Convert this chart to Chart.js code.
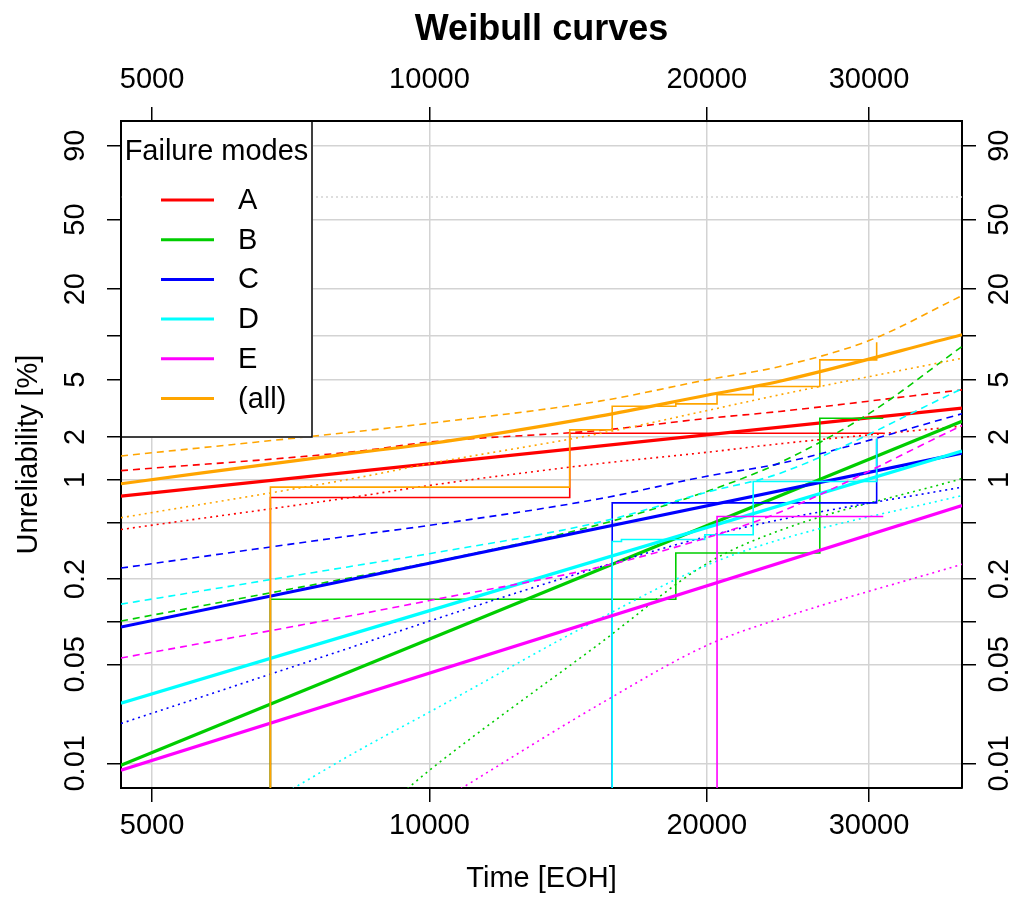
<!DOCTYPE html>
<html>
<head>
<meta charset="utf-8">
<title>Weibull curves</title>
<script src="https://cdn.jsdelivr.net/npm/chart.js@4"></script>
<style>
    html, body { margin: 0; padding: 0; background: #fff; }
</style>
</head>
<body>
<canvas id="chart" width="1016" height="898"></canvas>
<script>
// Failure modes and their colours
const MODES = ['A', 'B', 'C', 'D', 'E', '(all)'];
const MODE_COLORS = ['#ff0000', '#00cd00', '#0000ff', '#00ffff', '#ff00ff', '#ffa500'];

// Axis ticks
const X_TICKS = [5000, 10000, 20000, 30000];
const Y_TICKS = [0.01, 0.05, 0.1, 0.2, 0.5, 1, 2, 5, 10, 20, 50, 90];
const Y_TICK_LABELS = ['0.01', '0.05', '', '0.2', '', '1', '2', '5', '', '20', '50', '90'];
const CHAR_LIFE = 63.2;

// Axis range (time in EOH, unreliability as Weibull value)
const T_MIN = 4626, T_MAX = 37850;
const W_MIN = -4.1745, W_MAX = 0.5367;
const P_LOW = 0.0066; // just under the bottom of the plot [%]

// Times the curves were read at
const T_ENDS = [4626, 37850];
const T_GRID = [4626, 8390, 10000, 15300, 20000, 24000, 37850];
const T_GRID_FINE = [4626, 8390, 10000, 15300, 20000, 24000, 30000, 37850];

// Weibull fits [%]
const fitA = [0.767, 3.17];
const fitB = [0.00968, 2.57];
const fitC = [0.0917, 1.54];
const fitD = [0.0266, 1.59];
const fitE = [0.00893, 0.660];
const fitAll = [0.938, 1.56, 1.79, 2.79, 3.90, 4.87, 10.1];

// Upper (dashed) confidence bounds [%]
const upperA = [1.16, 1.59, 1.84, 2.22, 2.69, 3.01, 4.25];
const upperB = [0.101, 0.210, 0.261, 0.485, 0.828, 1.32, 2.91, 8.41];
const upperC = [0.239, 0.411, 0.478, 0.736, 1.06, 1.30, 2.90];
const upperD = [0.133, 0.251, 0.302, 0.504, 0.819, 1.11, 4.32];
const upperE = [0.0554, 0.113, 0.141, 0.243, 0.391, 0.592, 2.40];
const upperAll = [1.47, 2.19, 2.49, 3.55, 4.98, 6.15, 9.22, 18.2];

// Lower (dotted) confidence bounds [%]
const lowerA = [0.447, 0.767, 0.913, 1.30, 1.56, 1.79, 2.38];
const tLowerB = [9460, 10000, 15300, 20000, 24000, 37850];
const lowerB = [P_LOW, 0.00893, 0.0700, 0.257, 0.440, 1.02];
const lowerC = [0.0191, 0.0688, 0.101, 0.243, 0.399, 0.524, 0.888];
const tLowerD = [7100, 8390, 10000, 15300, 20000, 24000, 37850];
const lowerD = [P_LOW, 0.0124, 0.0230, 0.105, 0.250, 0.379, 0.776];
const tLowerE = [10810, 15300, 20000, 24000, 37850];
const lowerE = [P_LOW, 0.0261, 0.0680, 0.105, 0.254];
const lowerAll = [0.541, 1.04, 1.30, 2.11, 3.05, 3.93, 7.00];

// Empirical steps: failure times, levels [%], end of record (null = ends on the step)
const stepTimesA = [6720, 14200];
const stepPctA = [0.751, 2.12];
const stepTimesB = [6720, 18510, 26530];
const stepPctB = [0.144, 0.305, 2.70];
const stepTimesC = [15790, 30580];
const stepPctC = [0.688, 1.94];
const stepTimesD = [15790, 16160, 19900, 22460, 30580];
const stepPctD = [0.368, 0.380, 0.411, 0.974, 1.94];
const stepTimesE = [20520];
const stepPctE = [0.552];
const stepTimesAll = [6720, 14200, 15790, 18510, 20520, 22460, 26530, 30580];
const stepPctAll = [0.888, 2.24, 3.27, 3.40, 3.94, 4.48, 6.83, 8.99];
const stepEnds = [31090, 31090, null, null, 31090, null];

// Weibull paper: y = log10(-ln(1 - F))
const wb = p => Math.log10(-Math.log(1 - p / 100));
const series = (ts, ps) => ts.map((t, i) => ({ x: t, y: wb(ps[i]) }));

function stepSeries(ts, ps, end) {
    const pts = [{ x: ts[0], y: wb(P_LOW) }].concat(series(ts, ps));
    if (end) pts.push({ x: end, y: wb(ps[ps.length - 1]) });
    return pts;
}

const fits = [
    [T_ENDS, fitA], [T_ENDS, fitB], [T_ENDS, fitC],
    [T_ENDS, fitD], [T_ENDS, fitE], [T_GRID, fitAll]
];
const uppers = [
    [T_GRID, upperA], [T_GRID_FINE, upperB], [T_GRID, upperC],
    [T_GRID, upperD], [T_GRID, upperE], [T_GRID_FINE, upperAll]
];
const lowers = [
    [T_GRID, lowerA], [tLowerB, lowerB], [T_GRID, lowerC],
    [tLowerD, lowerD], [tLowerE, lowerE], [T_GRID, lowerAll]
];
const steps = [
    [stepTimesA, stepPctA], [stepTimesB, stepPctB], [stepTimesC, stepPctC],
    [stepTimesD, stepPctD], [stepTimesE, stepPctE], [stepTimesAll, stepPctAll]
];

const datasets = [{
    label: 'characteristic life',
    data: [{ x: T_MIN, y: wb(CHAR_LIFE) }, { x: T_MAX, y: wb(CHAR_LIFE) }],
    borderColor: '#d3d3d3', borderWidth: 1.5, borderDash: [2, 3]
}];

MODES.forEach((m, i) => {
    const c = MODE_COLORS[i];
    datasets.push({ label: m + ' steps', data: stepSeries(steps[i][0], steps[i][1], stepEnds[i]),
        borderColor: c, borderWidth: 1.6, stepped: 'before' });
    datasets.push({ label: m, data: series(fits[i][0], fits[i][1]),
        borderColor: c, borderWidth: 3.2, cubicInterpolationMode: 'monotone' });
    datasets.push({ label: m + ' upper', data: series(uppers[i][0], uppers[i][1]),
        borderColor: c, borderWidth: 1.6, borderDash: [7, 5], cubicInterpolationMode: 'monotone' });
    datasets.push({ label: m + ' lower', data: series(lowers[i][0], lowers[i][1]),
        borderColor: c, borderWidth: 1.6, borderDash: [2, 4], cubicInterpolationMode: 'monotone' });
});

// later datasets on top
datasets.forEach((d, i) => {
    d.order = datasets.length - i;
    d.pointRadius = 0;
    d.fill = false;
});

Chart.defaults.font.family = '"Liberation Sans", Arial, Helvetica, sans-serif';
Chart.defaults.color = '#000';

const FONT = { size: 29 };
const TITLE_PAD = 8;
const TITLE_HEIGHT = 36 * 1.2 + TITLE_PAD;

function setXTicks(scale) { scale.ticks = X_TICKS.map(v => ({ value: v })); }
function setYTicks(scale) { scale.ticks = Y_TICKS.map(p => ({ value: wb(p) })); }

function gridOpts(onArea) {
    return { color: '#d3d3d3', lineWidth: 1.5, drawOnChartArea: onArea,
        tickLength: 14, tickColor: '#000', tickWidth: 1.5 };
}
const borderOpts = { color: '#000', width: 2 };

function xAxis(position, height, pad, onArea) {
    return {
        type: 'logarithmic', position, min: T_MIN, max: T_MAX, bounds: 'data',
        afterBuildTicks: setXTicks,
        afterFit: s => { s.height = height; },
        ticks: { font: FONT, padding: pad, autoSkip: false, maxRotation: 0, callback: v => String(v) },
        grid: gridOpts(onArea),
        border: borderOpts
    };
}

function yAxis(position, width, pad, onArea) {
    return {
        type: 'linear', position, min: W_MIN, max: W_MAX, bounds: 'data',
        afterBuildTicks: setYTicks,
        afterFit: s => { s.width = width; },
        ticks: { font: FONT, padding: pad, autoSkip: false, minRotation: 90, maxRotation: 90,
            crossAlign: 'center', callback: (v, i) => Y_TICK_LABELS[i] },
        grid: gridOpts(onArea),
        border: borderOpts
    };
}

const scales = {
    x: xAxis('bottom', 110, 7, true),
    x2: xAxis('top', 121 - TITLE_HEIGHT, 10, false),
    y: yAxis('left', 121, 3, true),
    y2: yAxis('right', 54, -4, false)
};
scales.x.title = { display: true, text: 'Time [EOH]', font: FONT, padding: { top: 0, bottom: 2 } };
scales.y.title = { display: true, text: 'Unreliability [%]', font: FONT, padding: { top: 12, bottom: 0 } };

// Legend box drawn inside the top-left corner of the plot
const legendBox = {
    id: 'legendBox',
    afterDraw(chart) {
        const { ctx, chartArea: a } = chart;
        const left = a.left, top = a.top, w = 191, h = 316;
        ctx.save();
        ctx.fillStyle = '#fff';
        ctx.fillRect(left + 1, top + 1, w, h);
        ctx.strokeStyle = '#000';
        ctx.lineWidth = 1.5;
        ctx.strokeRect(left, top, w, h);
        ctx.font = '29px "Liberation Sans", Arial, sans-serif';
        ctx.fillStyle = '#000';
        ctx.textBaseline = 'middle';
        ctx.textAlign = 'center';
        ctx.fillText('Failure modes', left + w / 2, top + 31);
        ctx.textAlign = 'left';
        MODES.forEach((m, i) => {
            const y = top + 79 + i * 39.7;
            ctx.strokeStyle = MODE_COLORS[i];
            ctx.lineWidth = 3;
            ctx.beginPath();
            ctx.moveTo(left + 40, y);
            ctx.lineTo(left + 93, y);
            ctx.stroke();
            ctx.fillText(m, left + 117, y + 1);
        });
        ctx.restore();
    }
};

new Chart(document.getElementById('chart'), {
    type: 'line',
    data: { datasets },
    options: {
        responsive: false,
        animation: false,
        devicePixelRatio: 1,
        events: [],
        layout: { padding: 0 },
        scales,
        plugins: {
            legend: { display: false },
            tooltip: { enabled: false },
            title: {
                display: true, text: 'Weibull curves', fullSize: false,
                font: { size: 36, weight: 'bold' }, color: '#000',
                padding: { top: TITLE_PAD, bottom: 0 }
            }
        }
    },
    plugins: [legendBox]
});
</script>
</body>
</html>
